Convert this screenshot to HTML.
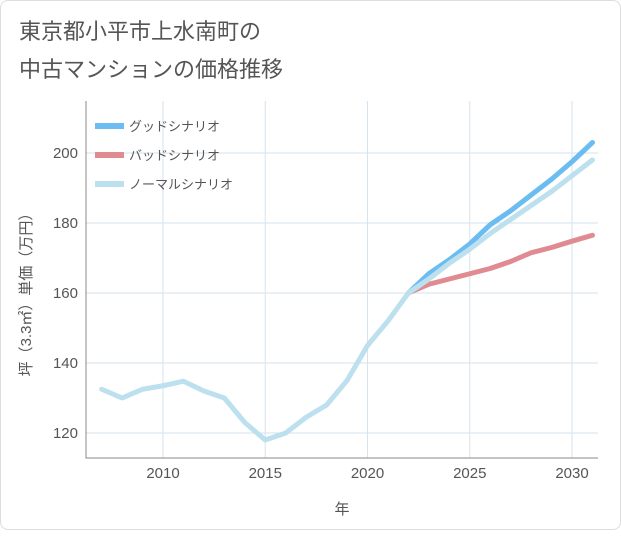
<!DOCTYPE html>
<html><head><meta charset="utf-8"><style>
body{margin:0;background:#fff;font-family:"Liberation Sans","Noto Sans CJK JP",sans-serif}
#c{position:absolute;left:0;top:0;width:619px;height:528px;border:1px solid #ddd;border-radius:8px;background:#fff}
text{font-family:"Liberation Sans","Noto Sans CJK JP",sans-serif}
</style></head><body>
<div id="c">
<svg id="s" width="621" height="530">
<text x="18" y="38" font-size="22" fill="#555">東京都小平市上水南町の</text>
<text x="18" y="76" font-size="22" fill="#555">中古マンションの価格推移</text>
<g id="grid"></g><g id="lines"></g>
<text x="30" y="290" font-size="15" fill="#555" transform="rotate(-90 30 290)" text-anchor="middle">坪（3.3㎡）単価（万円）</text>
<text x="341" y="513" font-size="15" fill="#555" text-anchor="middle">年</text>
<g>
<rect x="94" y="122" width="29" height="6" fill="#6bbcf0"/>
<text x="128" y="130" font-size="13" fill="#555">グッドシナリオ</text>
<rect x="94" y="151" width="29" height="6" fill="#e08a92"/>
<text x="128" y="159" font-size="13" fill="#555">バッドシナリオ</text>
<rect x="94" y="180" width="29" height="6" fill="#bde0ee"/>
<text x="128" y="188" font-size="13" fill="#555">ノーマルシナリオ</text>
</g>
</svg></div>
<script>
const years=[2007,2008,2009,2010,2011,2012,2013,2014,2015,2016,2017,2018,2019,2020,2021,2022,2023,2024,2025,2026,2027,2028,2029,2030,2031];
const normal=[132.5,130,132.5,133.5,134.8,132,130,123,118,120,124.5,128,135,145,152,160,164,168.5,172.5,177,181,185,189,193.5,198];
const goodYears=[2022,2023,2024,2025,2026,2027,2028,2029,2030,2031];
const good=[160,165.5,169.5,174,179.5,183.5,188,192.5,197.5,203];
const bad=[160,162.5,164,165.5,167,169,171.5,173,174.8,176.5];
const xTicks=[2010,2015,2020,2025,2030];
const yTicks=[120,140,160,180,200];
const L=85,R=597,T=100,B=457;
const x=v=>162+(v-2010)*20.45;
const y=v=>432-(v-120)*3.5;
const ns="http://www.w3.org/2000/svg";
const g=document.getElementById('grid'),ln=document.getElementById('lines');
function mk(p,t,a){const e=document.createElementNS(ns,t);for(const k in a)e.setAttribute(k,a[k]);p.appendChild(e);return e;}
for(const t of xTicks){const e=mk(g,'line',{x1:x(t),x2:x(t),y1:T,y2:B,stroke:'#d5e3ee'});

const tx=mk(g,'text',{x:x(t),y:B+20,'font-size':15,fill:'#555','text-anchor':'middle'});tx.textContent=t;
}
for(const t of yTicks){const e=mk(g,'line',{x1:L,x2:R,y1:y(t),y2:y(t),stroke:'#d5e3ee'});

const tx=mk(g,'text',{x:L-8,y:y(t)+5,'font-size':15,fill:'#555','text-anchor':'end'});tx.textContent=t;
}
const ax=mk(g,'path',{d:`M${L} ${T}V${B}H${R}`,fill:'none',stroke:'#888'});

function line(xs,vs,c,n){const d=xs.map((v,i)=>(i?'L':'M')+x(v)+' '+y(vs[i])).join('');
const e=mk(ln,'path',{d,fill:'none',stroke:c,'stroke-width':5,'stroke-linejoin':'round','stroke-linecap':'round'});
}
line(goodYears,good,'#6bbcf0','good-line');
line(goodYears,bad,'#e08a92','bad-line');
line(years,normal,'#bde0ee','normal-line');
</script></body></html>
